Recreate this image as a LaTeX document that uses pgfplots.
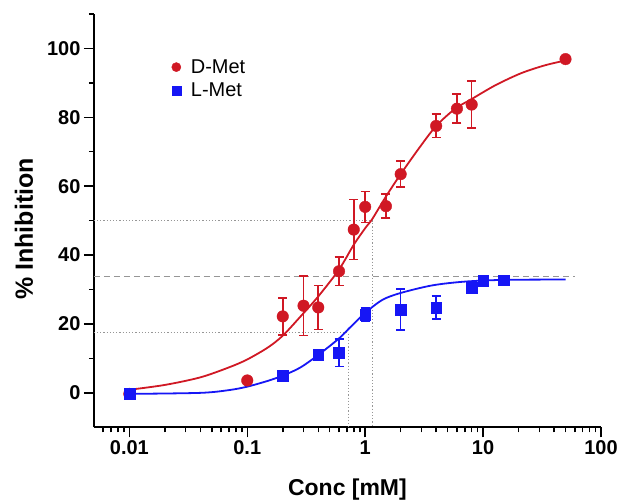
\documentclass[border=0pt]{standalone}
\usepackage{fontspec}
\setmainfont{Liberation Sans}
\usepackage{pgfplots}
\pgfplotsset{compat=1.18}
\usetikzlibrary{calc}

\definecolor{dred}{RGB}{208,24,36}
\definecolor{lblue}{RGB}{22,22,245}
\definecolor{refgray}{RGB}{150,150,150}

\begin{document}
\begin{tikzpicture}
\begin{axis}[name=ax, xmode=log, scale only axis, width=508pt, height=414pt,
  xmin=0.005, xmax=100, ymin=-10, ymax=110,
  axis x line*=bottom, axis y line*=left,
  axis line style={line width=1.8pt},
  xtick={0.01,0.1,1,10,100}, xticklabels={0.01,0.1,1,10,100},
  minor xtick={0.006,0.007,0.008,0.009,
    0.02,0.03,0.04,0.05,0.06,0.07,0.08,0.09,
    0.2,0.3,0.4,0.5,0.6,0.7,0.8,0.9,
    2,3,4,5,6,7,8,9,
    20,30,40,50,60,70,80,90},
  ytick={0,20,...,100}, minor ytick={10,30,...,110},
  tick align=outside, major tick length=10pt, minor tick length=5pt,
  every tick/.style={black, line width=1.5pt},
  /pgf/number format/assume math mode=true,
  ticklabel style={font=\fontsize{20}{24}\selectfont\bfseries},
  xlabel={Conc [mM]}, ylabel={\% Inhibition},
  xlabel style={font=\fontsize{23}{27}\selectfont\bfseries, at={(axis description cs:0.5,-0.164)}, anchor=base},
  ylabel style={font=\fontsize{25}{29}\selectfont\bfseries, at={(axis description cs:-0.138,0.48)}, anchor=center},
  legend style={at={(axis cs:0.0215,98)}, anchor=north west, draw=none, fill=none,
    font=\fontsize{20}{24}\selectfont, row sep=4pt},
  legend image post style={mark size=4.6pt},
  legend cell align=left]

% reference lines
\addplot[forget plot, refgray, dotted, line width=1.2pt] coordinates {(0.005,50) (1.15,50) (1.15,-10)};
\addplot[forget plot, refgray, dotted, line width=1.2pt] coordinates {(0.005,17.5) (0.72,17.5) (0.72,-10)};
\addplot[forget plot, refgray, dashed, line width=1.2pt, dash pattern=on 6pt off 4pt] coordinates {(0.005,33.8) (60,33.8)};

% fitted curves
\addplot[forget plot, dred, line width=1.8pt, smooth] coordinates {
  (0.01,0.9) (0.02,2.3) (0.04,4.5) (0.07,7.4) (0.1,9.7) (0.15,13.2) (0.2,16.6)
  (0.28,22) (0.4,28) (0.6,35.8) (0.8,43) (1.0,47.8) (1.15,50.5) (1.5,57)
  (2,63.5) (2.9,71.3) (4,77.5) (5.8,82.5) (8,85.3) (12.7,89.3) (21,92.8)
  (33.5,95.1) (50,96.5)};
\addplot[forget plot, lblue, line width=1.8pt, smooth] coordinates {
  (0.01,-0.3) (0.04,0) (0.07,0.8) (0.1,1.8) (0.15,3.5) (0.2,5) (0.28,7.3)
  (0.4,11) (0.6,15.8) (0.73,18.7) (1,23.2) (1.4,27) (2,29) (3.7,31.2)
  (7,32.3) (15,32.8) (50,32.9)};

% D-Met data
\addplot[dred, only marks, mark=*, mark size=5.8pt,
  error bars/.cd, y dir=both, y explicit,
  error bar style={line width=1.6pt, dred},
  error mark options={rotate=90, mark size=4.5pt, line width=1.6pt, dred}]
  coordinates {
  (0.01,-0.3) +- (0,0)
  (0.1,3.6) +- (0,0)
  (0.2,22.2) +- (0,5.4)
  (0.3,25.3) +- (0,8.7)
  (0.4,24.8) +- (0,6.4)
  (0.6,35.3) +- (0,4.1)
  (0.8,47.4) +- (0,8.7)
  (1.0,54.0) +- (0,4.5)
  (1.5,54.2) +- (0,3.5)
  (2,63.5) +- (0,3.8)
  (4,77.5) +- (0,3.4)
  (6,82.5) +- (0,4.2)
  (8,83.7) +- (0,6.8)
  (50,96.9) +- (0,0)};

% L-Met data
\addplot[lblue, only marks, mark=square*, mark size=5.4pt,
  error bars/.cd, y dir=both, y explicit,
  error bar style={line width=1.6pt, lblue},
  error mark options={rotate=90, mark size=4.5pt, line width=1.6pt, lblue}]
  coordinates {
  (0.01,-0.3) +- (0,0)
  (0.2,5.0) +- (0,0)
  (0.4,11.0) +- (0,0)
  (0.6,11.7) +- (0,4.0)
  (1.0,22.7) +- (0,2.0)
  (2,24.2) +- (0,6.0)
  (4,24.8) +- (0,3.4)
  (8,30.6) +- (0,1.2)
  (10,32.6) +- (0,0)
  (15,32.7) +- (0,0)};

\legend{\hspace{8pt}D-Met, \hspace{8pt}L-Met}
\end{axis}
\path ($(ax.south west)+(-94pt,-71pt)$) rectangle ($(ax.north east)+(19pt,14pt)$);
\end{tikzpicture}
\end{document}
